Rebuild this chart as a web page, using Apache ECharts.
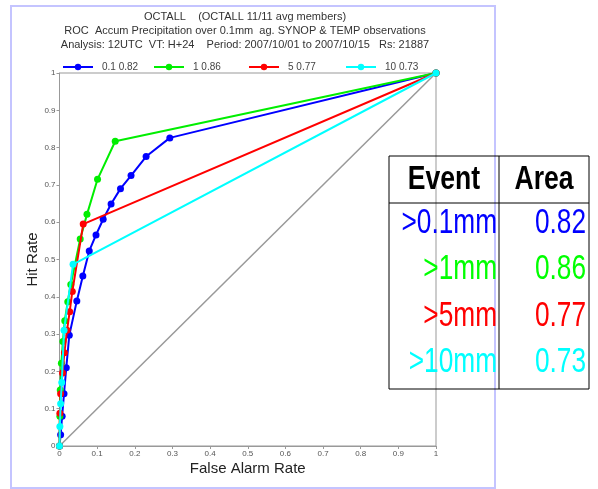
<!DOCTYPE html>
<html>
<head>
<meta charset="utf-8">
<script src="https://cdn.jsdelivr.net/npm/echarts@6/dist/echarts.min.js"></script>
<style>html,body{margin:0;padding:0;background:#fff}#c{width:598px;height:489px}</style>
</head>
<body>
<div id="c"></div>
<script>
// ---- data ----
var titleLines = [
  'OCTALL    (OCTALL 11/11 avg members)',
  'ROC  Accum Precipitation over 0.1mm  ag. SYNOP & TEMP observations',
  'Analysis: 12UTC  VT: H+24    Period: 2007/10/01 to 2007/10/15   Rs: 21887'
];
var seriesNames = ['0.1 0.82', '1 0.86', '5 0.77', '10 0.73'];
var seriesColors = ['#0000ff', '#00ee00', '#ff0000', '#00ffff'];
var tableColors = ['#0000ff', '#00ff00', '#ff0000', '#00ffff'];

var blueX = [0, 0.003, 0.007, 0.012, 0.018, 0.026, 0.046, 0.062, 0.079, 0.097, 0.116, 0.137, 0.162, 0.190, 0.230, 0.293, 1];
var blueY = [0, 0.03, 0.08, 0.14, 0.21, 0.297, 0.389, 0.456, 0.523, 0.566, 0.608, 0.649, 0.690, 0.725, 0.776, 0.826, 1];

var greenX = [0, 0.001, 0.002, 0.005, 0.009, 0.014, 0.022, 0.030, 0.055, 0.073, 0.101, 0.148, 1];
var greenY = [0, 0.08, 0.15, 0.222, 0.28, 0.336, 0.387, 0.433, 0.555, 0.621, 0.715, 0.817, 1];

var redX = [0, 0.001, 0.003, 0.008, 0.013, 0.020, 0.027, 0.034, 0.063, 1];
var redY = [0, 0.088, 0.14, 0.196, 0.25, 0.31, 0.36, 0.414, 0.595, 1];

var cyanX = [0, 0.001, 0.003, 0.006, 0.012, 0.036, 1];
var cyanY = [0, 0.052, 0.113, 0.17, 0.31, 0.487, 1];

var diagX = [0, 1];
var diagY = [0, 1];

var tableHeaders = ['Event', 'Area'];
var tableEvents = ['>0.1mm', '>1mm', '>5mm', '>10mm'];
var tableAreas = ['0.82', '0.86', '0.77', '0.73'];

// ---- build ----
function zip(xs, ys) { return xs.map(function (x, i) { return [x, ys[i]]; }); }
var allX = [blueX, greenX, redX, cyanX];
var allY = [blueY, greenY, redY, cyanY];

var series = [{
  type: 'line', name: 'diag', data: zip(diagX, diagY), symbol: 'none',
  lineStyle: { color: '#999', width: 1.5 }, silent: true, z: 1
}];
seriesNames.forEach(function (n, i) {
  series.push({
    type: 'line', name: n, data: zip(allX[i], allY[i]),
    symbol: 'circle', symbolSize: 7, showAllSymbol: true,
    color: seriesColors[i],
    lineStyle: { color: seriesColors[i], width: 2 },
    itemStyle: { color: seriesColors[i] },
    z: 2 + i
  });
});

var txtFont = 'Liberation Sans, Arial, sans-serif';

var graphics = [
  { type: 'rect', shape: { x: 11, y: 6, width: 484, height: 482 }, style: { fill: 'none', stroke: '#c4c4ff', lineWidth: 2 }, z: 0, silent: true }
];
titleLines.forEach(function (t, i) {
  graphics.push({ type: 'text', x: 245, y: 17 + i * 14, style: { text: t, fill: '#333', font: '11px ' + txtFont, textAlign: 'center', textVerticalAlign: 'middle' }, z: 10 });
});
// table
var tx = 389, ty = 156, tw = 200, th = 233, colX = 499, hdrY = 203;
graphics.push({ type: 'rect', shape: { x: tx, y: ty, width: tw, height: th }, style: { fill: 'none', stroke: '#000', lineWidth: 1 }, z: 20 });
graphics.push({ type: 'line', shape: { x1: colX, y1: ty, x2: colX, y2: ty + th }, style: { stroke: '#000', lineWidth: 1 }, z: 20 });
graphics.push({ type: 'line', shape: { x1: tx, y1: hdrY, x2: tx + tw, y2: hdrY }, style: { stroke: '#000', lineWidth: 1 }, z: 20 });
graphics.push({ type: 'text', x: (tx + colX) / 2, y: 180, scaleX: 0.83, scaleY: 1.02, style: { text: tableHeaders[0], fill: '#000', font: 'bold 32px ' + txtFont, textAlign: 'center', textVerticalAlign: 'middle' }, z: 20 });
graphics.push({ type: 'text', x: (colX + tx + tw) / 2, y: 180, scaleX: 0.83, scaleY: 1.02, style: { text: tableHeaders[1], fill: '#000', font: 'bold 32px ' + txtFont, textAlign: 'center', textVerticalAlign: 'middle' }, z: 20 });
var rowY = [223, 269, 316, 362];
tableEvents.forEach(function (e, i) {
  graphics.push({ type: 'text', x: 497, y: rowY[i], scaleX: 0.82, scaleY: 1.09, style: { text: e, fill: tableColors[i], font: '32px ' + txtFont, textAlign: 'right', textVerticalAlign: 'middle' }, z: 20 });
  graphics.push({ type: 'text', x: 586, y: rowY[i], scaleX: 0.82, scaleY: 1.09, style: { text: tableAreas[i], fill: tableColors[i], font: '32px ' + txtFont, textAlign: 'right', textVerticalAlign: 'middle' }, z: 20 });
});

var legendLeft = [57, 148, 243, 340];
var legends = seriesNames.map(function (n, i) {
  return {
    data: [n], top: 57, left: legendLeft[i], itemWidth: 30, itemHeight: 8,
    textStyle: { color: '#444', fontSize: 10, fontFamily: txtFont, padding: [0, 0, 0, 4] }
  };
});

var axisCommon = {
  type: 'value', min: 0, max: 1, interval: 0.1,
  axisLine: { show: true, lineStyle: { color: '#999', width: 1 } },
  axisTick: { show: true, length: 3, lineStyle: { color: '#999' } },
  splitLine: { show: false },
  axisLabel: { color: '#555', fontSize: 8, fontFamily: txtFont, margin: 4 },
  nameTextStyle: { color: '#222', fontSize: 15, fontFamily: txtFont },
  nameLocation: 'middle',
  nameMoveOverlap: false
};

var chart = echarts.init(document.getElementById('c'));
chart.setOption({
  animation: false,
  backgroundColor: '#fff',
  grid: { left: 59.5, right: 162, top: 73, bottom: 43, show: true, borderColor: '#999', borderWidth: 1 },
  xAxis: Object.assign({}, axisCommon, { name: 'False Alarm Rate', nameGap: 15 }),
  yAxis: Object.assign({}, axisCommon, { name: 'Hit Rate', nameGap: 19 }),
  legend: legends,
  series: series,
  graphic: graphics
});
</script>
</body>
</html>
